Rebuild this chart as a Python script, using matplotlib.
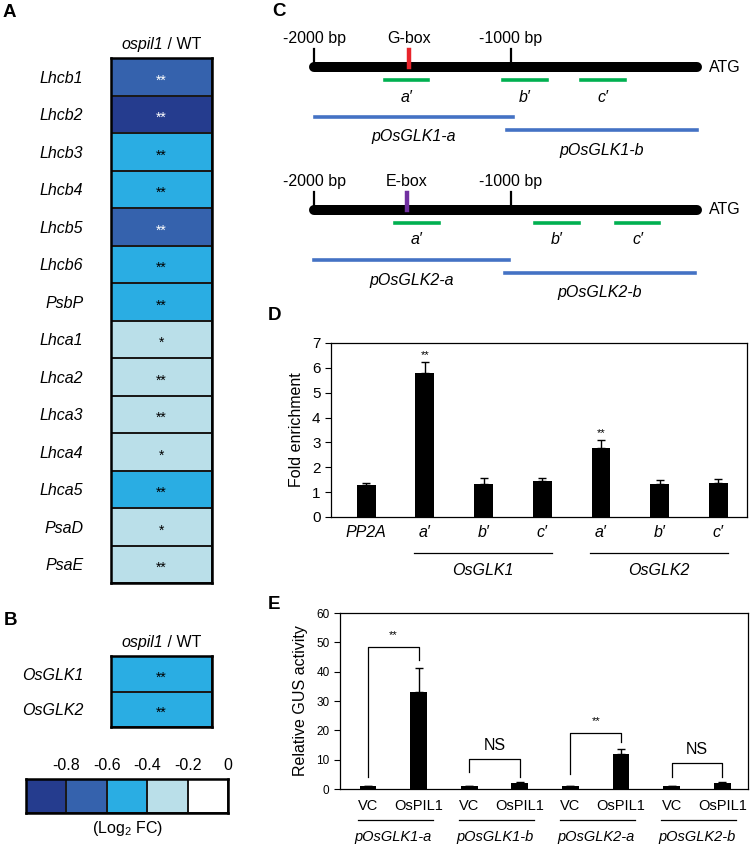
import matplotlib
matplotlib.use("Agg")
import matplotlib.pyplot as plt
from matplotlib.colors import ListedColormap, BoundaryNorm
from matplotlib.offsetbox import TextArea, HPacker, AnchoredOffsetbox
import numpy as np

plt.rcParams['font.family'] = ['Liberation Sans', 'DejaVu Sans']
plt.rcParams['mathtext.fontset'] = 'custom'
plt.rcParams['mathtext.rm'] = 'Liberation Sans'
plt.rcParams['mathtext.it'] = 'Liberation Sans:italic'

# A / B: log2 fold change ospil1 vs WT
genes_a = ['Lhcb1', 'Lhcb2', 'Lhcb3', 'Lhcb4', 'Lhcb5', 'Lhcb6', 'PsbP',
           'Lhca1', 'Lhca2', 'Lhca3', 'Lhca4', 'Lhca5', 'PsaD', 'PsaE']
fc_a = [-0.7, -0.88, -0.5, -0.5, -0.7, -0.5, -0.45,
        -0.3, -0.35, -0.3, -0.25, -0.45, -0.25, -0.3]
sig_a = ['**', '**', '**', '**', '**', '**', '**',
         '*', '**', '**', '*', '**', '*', '**']
genes_b = ['OsGLK1', 'OsGLK2']
fc_b = [-0.5, -0.45]
sig_b = ['**', '**']
fc_bounds = [-1.0, -0.8, -0.6, -0.4, -0.2, 0.0]
fc_colors = ['#253c8e', '#3562ad', '#2aade3', '#badfe9', '#ffffff']

# C: promoter schematics (bp relative to ATG)
promoter_start = -2000
promoter_end = -55
box_names = ['G-box', 'E-box']
box_pos = [-1518, -1528]
box_colors = ['#e8242b', '#7030a0']
amplicons = [[(-1640, -1421), (-1041, -817), (-645, -421)],
             [(-1589, -1365), (-878, -655), (-467, -249)]]
amplicon_names = ["a\u2032", "b\u2032", "c\u2032"]
fragments = [[(-1995, -990), (-1020, -56)], [(-2000, -1010), (-1030, -66)]]
fragment_names = [['pOsGLK1-a', 'pOsGLK1-b'], ['pOsGLK2-a', 'pOsGLK2-b']]

# D: ChIP-qPCR
chip_labels = ['PP2A', "a\u2032", "b\u2032", "c\u2032", "a\u2032", "b\u2032", "c\u2032"]
chip_mean = [1.27, 5.8, 1.33, 1.45, 2.78, 1.33, 1.37]
chip_err = [0.1, 0.45, 0.22, 0.12, 0.3, 0.15, 0.17]
chip_sig = ['', '**', '', '', '**', '', '']
chip_groups = ['OsGLK1', 'OsGLK2']

# E: GUS activity
gus_labels = ['VC', 'OsPIL1'] * 4
gus_mean = [1.0, 33.2, 1.0, 2.1, 1.0, 11.8, 1.0, 2.0]
gus_err = [0.1, 7.9, 0.1, 0.4, 0.1, 1.9, 0.1, 0.4]
gus_groups = ['pOsGLK1-a', 'pOsGLK1-b', 'pOsGLK2-a', 'pOsGLK2-b']
bracket_top = [48.4, 10.3, 19.0, 8.9]
bracket_left = [4.0, 5.8, 5.0, 4.0]
bracket_right = [44.0, 4.0, 16.0, 4.0]
bracket_text = ['**', 'NS', '**', 'NS']

W, H = 750, 848
fig = plt.figure(figsize=(W / 100, H / 100), dpi=100)


def add_ax(x0, y0, x1, y1):
    return fig.add_axes([x0 / W, 1 - y1 / H, (x1 - x0) / W, (y1 - y0) / H])


def panel(label, x, y):
    fig.text(x / W, 1 - y / H, label, fontsize=13.5, fontweight='bold',
             ha='left', va='top')


cmap = ListedColormap(fc_colors)
norm = BoundaryNorm(fc_bounds, cmap.N)
FS = 11.5


def heat(ax, genes, fc, sig):
    n = len(genes)
    ax.pcolormesh(np.array(fc).reshape(-1, 1), cmap=cmap, norm=norm,
                  edgecolors='#1a1a1a', linewidth=1.2)
    ax.set_xlim(0, 1)
    ax.set_ylim(n, 0)
    ax.set_xticks([])
    ax.set_yticks(np.arange(n) + 0.5, genes, style='italic', fontsize=FS)
    ax.tick_params(axis='y', length=0, pad=20)
    for s in ax.spines.values():
        s.set_linewidth(1.8)
    for i, (v, s) in enumerate(zip(fc, sig)):
        ax.text(0.5, i + 0.6, s, ha='center', va='center', fontsize=10,
                color='white' if v < -0.6 else 'black')
    # title with italic genotype
    title = HPacker(children=[TextArea('ospil1', textprops=dict(style='italic', fontsize=FS)),
                              TextArea(' / WT', textprops=dict(fontsize=FS))],
                    align='baseline', pad=0, sep=0)
    box = AnchoredOffsetbox(loc='lower center', child=title, pad=0, frameon=False,
                            bbox_to_anchor=(0.5, 1.0), bbox_transform=ax.transAxes,
                            borderpad=0.45)
    ax.add_artist(box)


# panel A
ax_a = add_ax(111, 58, 212, 583)
heat(ax_a, genes_a, fc_a, sig_a)
panel('A', 3, 4)

# panel B
ax_b = add_ax(111, 656, 212, 727)
heat(ax_b, genes_b, fc_b, sig_b)
panel('B', 4, 612)

# colour key
ax_k = add_ax(26, 779, 228, 813)
mids = [(fc_bounds[i] + fc_bounds[i + 1]) / 2 for i in range(len(fc_colors))]
ax_k.pcolormesh(np.array(mids).reshape(1, -1), cmap=cmap, norm=norm,
                edgecolors='#1a1a1a', linewidth=1.2)
ax_k.set_xlim(0, len(mids))
ax_k.set_ylim(0, 1)
ax_k.set_yticks([])
ax_k.xaxis.tick_top()
ax_k.set_xticks(np.arange(1, len(mids) + 1),
                ['%g' % b for b in fc_bounds[1:]], fontsize=FS)
ax_k.tick_params(axis='x', length=0, pad=4)
ax_k.set_xlabel(r'(Log$_2$ FC)', fontsize=FS, labelpad=4)
for s in ax_k.spines.values():
    s.set_linewidth(1.8)

# panel C
ax_c = add_ax(250, 0, 750, 310)
ax_c.set_xlim(-2325, 213)
ax_c.set_ylim(310, 0)
ax_c.axis('off')
panel('C', 272, 3)
rows = [67, 210]
for r, y in enumerate(rows):
    ax_c.plot([promoter_start, promoter_end], [y, y], color='black', lw=7.2,
              solid_capstyle='round')
    for xb, lab in [(-2000, '-2000 bp'), (-1000, '-1000 bp')]:
        ax_c.plot([xb, xb], [y - 18, y], color='black', lw=1.6)
        ax_c.text(xb, y - 21, lab, ha='center', va='bottom', fontsize=FS)
    ax_c.plot([box_pos[r], box_pos[r]], [y - 17, y], color=box_colors[r], lw=3.2)
    ax_c.text(box_pos[r], y - 21, box_names[r], ha='center', va='bottom', fontsize=FS)
    ax_c.text(promoter_end + 60, y, 'ATG', ha='left', va='center', fontsize=FS)
    for (s, e), nm in zip(amplicons[r], amplicon_names):
        ax_c.plot([s, e], [y + 13, y + 13], color='#00b050', lw=2.6)
        ax_c.text((s + e) / 2, y + 30, nm, ha='center', va='center',
                  fontsize=FS, style='italic')
    for k, ((s, e), nm) in enumerate(zip(fragments[r], fragment_names[r])):
        yy = y + 50 + 13 * k
        ax_c.plot([s, e], [yy, yy], color='#4472c4', lw=2.6)
        ax_c.text((s + e) / 2, yy + 20, nm, ha='center', va='center',
                  fontsize=FS, style='italic')

# panel D
ax_d = add_ax(331, 343, 747, 517)
panel('D', 268, 307)
xd = np.arange(len(chip_mean))
ax_d.bar(xd, chip_mean, width=0.32, color='black')
ax_d.errorbar(xd, chip_mean, yerr=[np.zeros(len(chip_err)), chip_err],
              fmt='none', ecolor='black', elinewidth=1, capsize=3)
for i, s in enumerate(chip_sig):
    if s:
        ax_d.text(i, chip_mean[i] + chip_err[i] + 0.08, s, ha='center',
                  va='bottom', fontsize=8)
ax_d.set_xlim(-0.6, 6.49)
ax_d.set_ylim(0, 7)
ax_d.set_yticks(range(8))
ax_d.tick_params(axis='y', direction='out', length=4, labelsize=11)
ax_d.set_xticks(xd, chip_labels, style='italic', fontsize=FS)
ax_d.tick_params(axis='x', length=0, pad=6)
ax_d.set_ylabel('Fold enrichment', fontsize=FS, labelpad=6)
for s in ax_d.spines.values():
    s.set_linewidth(0.9)
for g, name in enumerate(chip_groups):
    a, b = 1 + 3 * g - 0.18, 3 + 3 * g + 0.17
    ax_d.plot([a, b], [-0.207, -0.207], color='black', lw=0.9,
              transform=ax_d.get_xaxis_transform(), clip_on=False)
    ax_d.text((a + b) / 2, -0.31, name, ha='center', va='center', style='italic',
              fontsize=FS, transform=ax_d.get_xaxis_transform())

# panel E
ax_e = add_ax(340, 613, 748, 789)
panel('E', 268, 596)
xe = np.arange(len(gus_mean))
ax_e.bar(xe, gus_mean, width=0.33, color='black')
ax_e.errorbar(xe, gus_mean, yerr=[np.zeros(len(gus_err)), gus_err],
              fmt='none', ecolor='black', elinewidth=1, capsize=3)
for g in range(len(gus_groups)):
    l, r = 2 * g, 2 * g + 1
    ax_e.plot([l, l, r, r], [bracket_left[g], bracket_top[g], bracket_top[g],
                             bracket_right[g]], color='black', lw=0.9)
    if bracket_text[g] == '**':
        ax_e.text(l + 0.5, bracket_top[g] + 2.5, '**', ha='center',
                  va='bottom', fontsize=8)
    else:
        ax_e.text(l + 0.5, bracket_top[g] + 2.0, 'NS', ha='center',
                  va='bottom', fontsize=FS)
ax_e.set_xlim(-0.553, 7.51)
ax_e.set_ylim(0, 60)
ax_e.set_yticks(range(0, 61, 10))
ax_e.tick_params(axis='y', direction='out', length=4, labelsize=8.5)
ax_e.set_xticks(xe, gus_labels, fontsize=10.5)
ax_e.tick_params(axis='x', length=0, pad=7)
ax_e.set_ylabel('Relative GUS activity', fontsize=FS, labelpad=6)
for s in ax_e.spines.values():
    s.set_linewidth(0.9)
for g, name in enumerate(gus_groups):
    a, b = 2 * g - 0.2, 2 * g + 1.28
    ax_e.plot([a, b], [-0.176, -0.176], color='black', lw=0.9,
              transform=ax_e.get_xaxis_transform(), clip_on=False)
    ax_e.text(2 * g + 0.5, -0.275, name, ha='center', va='center', style='italic',
              fontsize=10.5, transform=ax_e.get_xaxis_transform())

fig.savefig('out.png', dpi=100)
